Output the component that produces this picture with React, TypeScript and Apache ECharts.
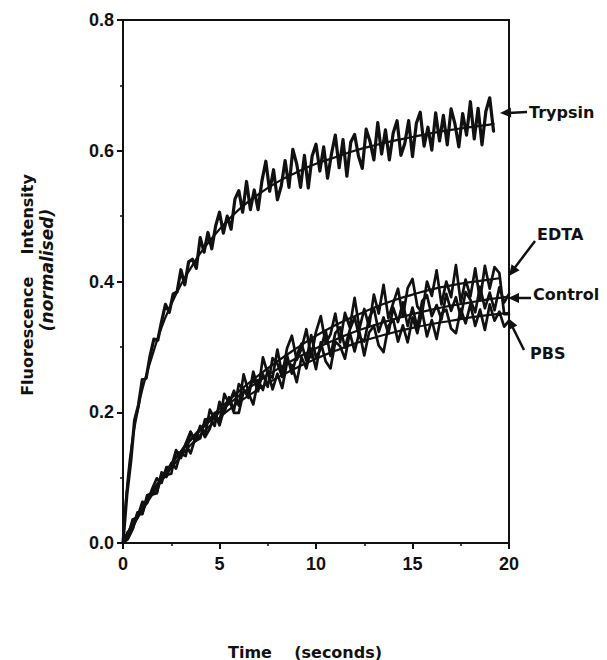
import React, { useEffect, useRef } from "react";
import * as echarts from "echarts";

const X_TICKS_INTERVAL = 5;
const Y_TICKS_INTERVAL = 0.2;

// Raw traces sampled on a regular time grid
const TRYPSIN_STEP = 0.2;
const trypsinRaw = [
  0.0, 0.074, 0.124, 0.188, 0.211, 0.25, 0.252, 0.286, 0.312, 0.31,
  0.339, 0.365, 0.353, 0.381, 0.384, 0.418, 0.395, 0.43, 0.434, 0.42,
  0.467, 0.445, 0.475, 0.45, 0.485, 0.506, 0.474, 0.5, 0.48, 0.526,
  0.539, 0.506, 0.553, 0.51, 0.54, 0.51, 0.554, 0.584, 0.538, 0.571,
  0.525, 0.546, 0.585, 0.544, 0.602, 0.58, 0.544, 0.593, 0.543, 0.592,
  0.61, 0.569, 0.606, 0.558, 0.595, 0.624, 0.574, 0.617, 0.561, 0.613,
  0.625, 0.592, 0.573, 0.633, 0.614, 0.586, 0.643, 0.595, 0.632, 0.586,
  0.627, 0.646, 0.593, 0.611, 0.646, 0.591, 0.642, 0.659, 0.607, 0.636,
  0.601, 0.658, 0.615, 0.654, 0.609, 0.664, 0.641, 0.606, 0.657, 0.624,
  0.675, 0.618, 0.665, 0.609, 0.66, 0.681, 0.63,
];

const LOWER_STEP = 0.25;
const controlRaw = [
  0.0, 0.01, 0.036, 0.039, 0.063, 0.061, 0.082, 0.099, 0.092, 0.116,
  0.116, 0.142, 0.13, 0.152, 0.17, 0.156, 0.16, 0.189, 0.19, 0.179,
  0.216, 0.2, 0.223, 0.203, 0.243, 0.235, 0.222, 0.262, 0.237, 0.258,
  0.239, 0.283, 0.274, 0.254, 0.287, 0.259, 0.287, 0.305, 0.279, 0.318,
  0.284, 0.297, 0.325, 0.286, 0.321, 0.33, 0.299, 0.326, 0.345, 0.315,
  0.308, 0.344, 0.359, 0.323, 0.345, 0.32, 0.36, 0.338, 0.368, 0.332,
  0.36, 0.33, 0.37, 0.379, 0.347, 0.364, 0.342, 0.381, 0.355, 0.376,
  0.345, 0.384, 0.372, 0.353, 0.392, 0.359, 0.383, 0.356, 0.391, 0.368,
  0.381,
];
const edtaRaw = [
  0.0, 0.017, 0.022, 0.047, 0.045, 0.073, 0.076, 0.077, 0.108, 0.104,
  0.106, 0.14, 0.136, 0.133, 0.17, 0.156, 0.179, 0.165, 0.204, 0.19,
  0.185, 0.228, 0.213, 0.233, 0.21, 0.258, 0.232, 0.252, 0.232, 0.284,
  0.259, 0.253, 0.296, 0.257, 0.298, 0.317, 0.28, 0.297, 0.327, 0.284,
  0.323, 0.347, 0.305, 0.319, 0.351, 0.307, 0.352, 0.33, 0.375, 0.328,
  0.358, 0.331, 0.38, 0.351, 0.395, 0.344, 0.367, 0.389, 0.346, 0.39,
  0.404, 0.362, 0.352, 0.4, 0.378, 0.417, 0.365, 0.4, 0.376, 0.425,
  0.368, 0.403, 0.377, 0.42, 0.371, 0.424, 0.389, 0.422, 0.413, 0.35,
  0.35,
];
const pbsRaw = [
  0.0, 0.006, 0.021, 0.044, 0.044, 0.069, 0.074, 0.076, 0.105, 0.101,
  0.122, 0.114, 0.139, 0.151, 0.137, 0.161, 0.177, 0.162, 0.175, 0.199,
  0.18, 0.206, 0.219, 0.199, 0.199, 0.232, 0.229, 0.212, 0.249, 0.234,
  0.264, 0.235, 0.259, 0.237, 0.276, 0.272, 0.246, 0.284, 0.267, 0.297,
  0.266, 0.307, 0.278, 0.267, 0.308, 0.301, 0.282, 0.322, 0.293, 0.323,
  0.287, 0.322, 0.332, 0.302, 0.292, 0.332, 0.342, 0.308, 0.333, 0.307,
  0.345, 0.321, 0.354, 0.316, 0.341, 0.312, 0.351, 0.357, 0.328, 0.321,
  0.358, 0.336, 0.365, 0.332, 0.357, 0.326, 0.365, 0.34, 0.354, 0.331,
  0.34,
];

// Fitted curves
const trypsinFitT = [0, 0.25, 0.5, 0.75, 1, 1.5, 2, 2.5, 3, 3.5, 4, 5, 6, 7, 8, 9, 10, 11, 12, 13, 14, 15, 16, 17, 18, 19, 19.2];
const trypsinFit = [0, 0.1, 0.16, 0.2, 0.235, 0.285, 0.33, 0.365, 0.395, 0.42, 0.443, 0.48, 0.51, 0.533, 0.552, 0.567, 0.58, 0.59, 0.6, 0.608, 0.615, 0.621, 0.627, 0.632, 0.636, 0.64, 0.641];
const lowerFitT = [0, 0.5, 1, 2, 3, 4, 5, 6, 7, 8, 9, 10, 11, 12, 13, 14, 15, 16, 17, 18, 19, 20];
const controlFit = [0, 0.03, 0.055, 0.1, 0.14, 0.172, 0.2, 0.225, 0.247, 0.266, 0.283, 0.298, 0.311, 0.323, 0.333, 0.342, 0.35, 0.357, 0.363, 0.368, 0.373, 0.377];
const pbsFit = [0, 0.025, 0.05, 0.095, 0.133, 0.165, 0.192, 0.215, 0.235, 0.253, 0.268, 0.282, 0.294, 0.305, 0.314, 0.322, 0.329, 0.335, 0.34, 0.345, 0.349, 0.352];
const edtaFitT = [0, 0.5, 1, 2, 3, 4, 5, 6, 7, 8, 9, 10, 11, 12, 13, 14, 15, 16, 17, 18, 19, 19.5];
const edtaFit = [0, 0.03, 0.055, 0.1, 0.14, 0.175, 0.205, 0.232, 0.256, 0.278, 0.298, 0.317, 0.333, 0.347, 0.36, 0.371, 0.38, 0.388, 0.394, 0.399, 0.403, 0.405];

const FONT = "'Liberation Sans', Arial, Helvetica, sans-serif";
const TITLE_FONT = "'DejaVu Sans', Verdana, sans-serif";
const INK = "#111";

const sampled = (vals: number[], step: number) => vals.map((v, i) => [+(i * step).toFixed(3), v]);
const paired = (ts: number[], vs: number[]) => ts.map((t, i) => [t, vs[i]]);

function arrowHead(tip: [number, number], from: [number, number], len = 11, half = 5) {
  const dx = tip[0] - from[0];
  const dy = tip[1] - from[1];
  const d = Math.hypot(dx, dy);
  const ux = dx / d, uy = dy / d;
  const bx = tip[0] - ux * len, by = tip[1] - uy * len;
  const px = -uy * half, py = ux * half;
  return {
    type: "polygon",
    shape: { points: [tip, [bx + px, by + py], [bx - px, by - py]] },
    style: { fill: INK },
    silent: true,
  };
}
function arrowLine(from: [number, number], tip: [number, number]) {
  return {
    type: "line",
    shape: { x1: from[0], y1: from[1], x2: tip[0], y2: tip[1] },
    style: { stroke: INK, lineWidth: 2.5 },
    silent: true,
  };
}
function label(text: string, x: number, y: number) {
  return {
    type: "text",
    x,
    y,
    style: { text, fill: INK, font: `bold 16px ${TITLE_FONT}`, textVerticalAlign: "middle", textAlign: "left" },
    silent: true,
  };
}

export default function App() {
  const ref = useRef<HTMLDivElement>(null);
  useEffect(() => {
    if (!ref.current) return;
    const chart = echarts.init(ref.current, undefined, { renderer: "svg" });
    const line = (data: number[][], width: number, smooth = false) => ({
      type: "line",
      data,
      showSymbol: false,
      symbol: "none",
      smooth,
      lineStyle: { color: INK, width, join: "round", cap: "round" },
      itemStyle: { color: INK },
      silent: true,
    });
    const axisCommon = {
      axisLine: { show: true, onZero: false, lineStyle: { color: INK, width: 2 } },
      axisTick: { show: true, length: 6, lineStyle: { color: INK, width: 2 } },
      minorTick: { show: true, splitNumber: 2, length: 3, lineStyle: { color: INK, width: 1.5 } },
      splitLine: { show: false },
      axisLabel: { color: INK, fontSize: 18, fontWeight: "bold", fontFamily: FONT },
    };
    chart.setOption({
      animation: false,
      backgroundColor: "#fff",
      grid: { left: 123, right: 98, top: 20, bottom: 117, show: true, borderColor: INK, borderWidth: 2 },
      xAxis: {
        type: "value",
        min: 0,
        max: 20,
        interval: X_TICKS_INTERVAL,
        ...axisCommon,
        axisLabel: { ...axisCommon.axisLabel, margin: 12 },
      },
      yAxis: {
        type: "value",
        min: 0,
        max: 0.8,
        interval: Y_TICKS_INTERVAL,
        ...axisCommon,
        axisLabel: { ...axisCommon.axisLabel, margin: 9, formatter: (v: number) => v.toFixed(1) },
      },
      series: [
        line(sampled(trypsinRaw, TRYPSIN_STEP), 3.2),
        line(paired(trypsinFitT, trypsinFit), 2.2, true),
        line(sampled(pbsRaw, LOWER_STEP), 2.7),
        line(sampled(controlRaw, LOWER_STEP), 2.7),
        line(sampled(edtaRaw, LOWER_STEP), 2.7),
        line(paired(lowerFitT, pbsFit), 2.2, true),
        line(paired(lowerFitT, controlFit), 2.2, true),
        line(paired(edtaFitT, edtaFit), 2.2, true),
      ],
      graphic: [
        {
          type: "text",
          x: 27,
          y: 285,
          rotation: Math.PI / 2,
          style: { text: "Fluorescence    Intensity", fill: INK, font: `bold 16px ${TITLE_FONT}`, textAlign: "center", textVerticalAlign: "middle" },
          silent: true,
        },
        {
          type: "text",
          x: 47,
          y: 270,
          rotation: Math.PI / 2,
          style: { text: "(normalised)", fill: INK, font: `italic bold 17px ${TITLE_FONT}`, textAlign: "center", textVerticalAlign: "middle" },
          silent: true,
        },
        {
          type: "text",
          x: 305,
          y: 652,
          style: { text: "Time    (seconds)", fill: INK, font: `bold 16px ${TITLE_FONT}`, textAlign: "center", textVerticalAlign: "middle" },
          silent: true,
        },
        label("Trypsin", 529, 112),
        arrowLine([527, 112], [506, 113]),
        arrowHead([500, 113], [527, 112]),
        label("EDTA", 537, 234),
        arrowLine([535, 241], [513, 270]),
        arrowHead([509, 276], [535, 241]),
        label("Control", 533, 294),
        arrowLine([531, 298], [514, 298]),
        arrowHead([508, 298], [531, 298]),
        label("PBS", 530, 353),
        arrowLine([524, 350], [511, 324]),
        arrowHead([508, 318], [524, 350]),
      ],
    });
    return () => chart.dispose();
  }, []);
  return <div ref={ref} style={{ position: "fixed", left: 0, top: 0, width: 607, height: 660 }} />;
}
